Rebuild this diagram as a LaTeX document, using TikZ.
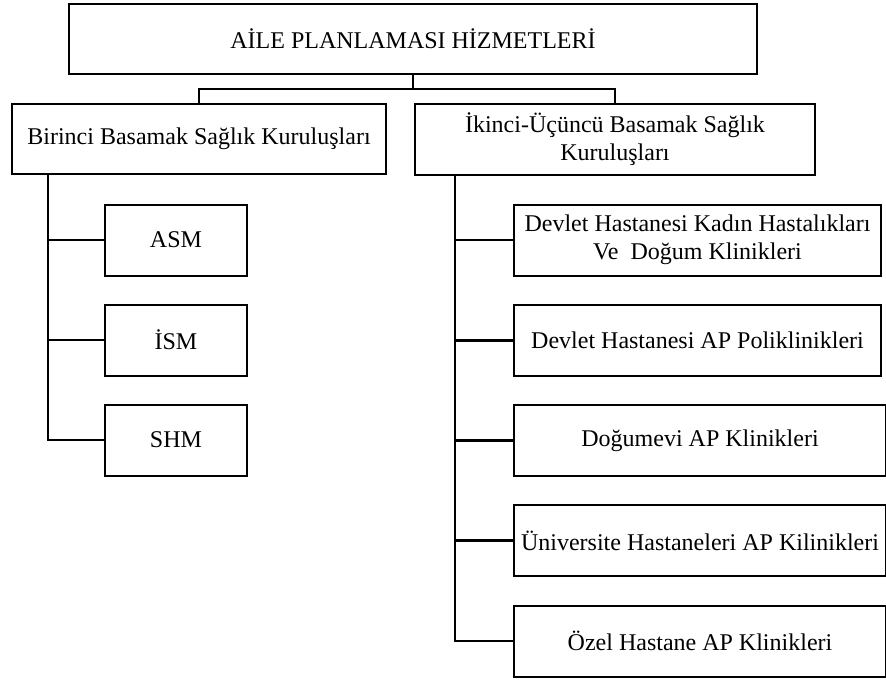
\documentclass[tikz,border=0pt]{standalone}
\usepackage{fontspec}
\setmainfont{Liberation Serif}
\usetikzlibrary{positioning}

\begin{document}
\begin{tikzpicture}[x=1pt,y=-1pt,
  box/.style={draw,line width=2pt,align=center,inner sep=0pt,
    font=\fontsize{24}{28}\selectfont},
  leaf/.style={box,minimum width=142pt,minimum height=71pt},
  unit/.style={box,minimum width=367pt,minimum height=71pt},
  link/.style={line width=2.2pt}]
  \useasboundingbox (0,0) rectangle (886,680);
  \node[box,minimum width=688pt,minimum height=70pt] (top) at (413,39)
    {AİLE PLANLAMASI HİZMETLERİ};
  \node[box,minimum width=374pt,minimum height=70pt] (bir) at (199,139)
    {Birinci Basamak Sağlık Kuruluşları};
  \node[box,minimum width=400pt,minimum height=71pt] (iki) at (615,139.5)
    {İkinci-Üçüncü Basamak Sağlık\\Kuruluşları};
  \node[leaf] (asm) at (176,240) {ASM};
  \node[leaf] (ism) at (176,340) {İSM};
  \node[leaf] (shm) at (176,440) {SHM};
  \node[unit] (kdk) at (697.5,240) {Devlet Hastanesi Kadın Hastalıkları\\Ve~~Doğum Klinikleri};
  \node[unit] (dhp) at (697.5,340.5) {Devlet Hastanesi AP Poliklinikleri};
  \node[unit,minimum width=372pt] (dmk) at (700,440.5) {Doğumevi AP Klinikleri};
  \node[unit,minimum width=372pt] (uhk) at (700,540.5) {Üniversite Hastaneleri AP Kilinikleri};
  \node[unit,minimum width=372pt] (ohk) at (700,641) {Özel Hastane AP Klinikleri};
  \coordinate (split) at (413,89);
  \coordinate (ltrunk) at ([xshift=37pt]bir.south west);
  \coordinate (rtrunk) at ([xshift=41pt]iki.south west);
  \draw[link] (top) -- (split);
  \draw[link] (split) -| (bir);
  \draw[link] (split) -| (iki);
  \draw[link] (ltrunk) |- (shm);
  \foreach \n in {asm,ism}
    \draw[link] (ltrunk |- \n.west) -- (\n.west);
  \draw[link] (rtrunk) |- (ohk);
  \foreach \n in {kdk,dhp,dmk,uhk}
    \draw[link] (rtrunk |- \n.west) -- (\n.west);
\end{tikzpicture}
\end{document}
